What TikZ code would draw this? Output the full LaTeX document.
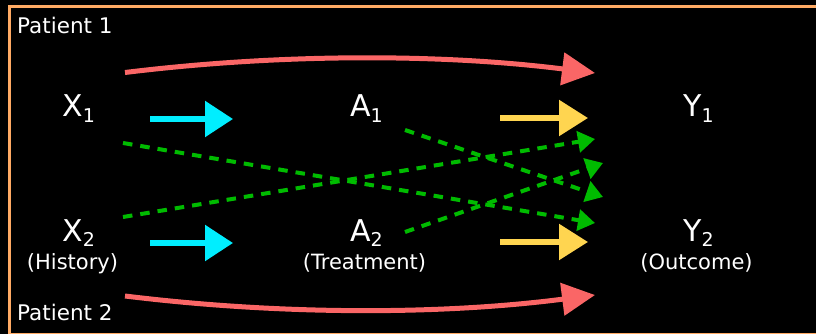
\documentclass[tikz,border=0pt]{standalone}
\usepackage{fontspec}
\setmainfont{DejaVu Sans}
\usetikzlibrary{arrows.meta}
\definecolor{frameor}{RGB}{255,170,100}
\definecolor{redarr}{RGB}{250,102,102}
\definecolor{cyanarr}{RGB}{0,238,255}
\definecolor{yelarr}{RGB}{255,213,80}
\definecolor{grnarr}{RGB}{0,187,0}
\newcommand\sbs[1]{\raisebox{-5.5pt}{\fontsize{19}{19}\selectfont #1}}
\begin{document}
\begin{tikzpicture}[x=1pt,y=-1pt,
  varlab/.style={text=white,font=\fontsize{30}{32}\selectfont,inner sep=0pt,anchor=base west},
  rolelab/.style={text=white,font=\fontsize{21}{23}\selectfont,inner sep=0pt,anchor=base},
  patlab/.style={text=white,font=\fontsize{21.5}{23}\selectfont,inner sep=0pt,anchor=base west},
  redar/.style={draw=redarr,line width=5pt,-{Triangle[length=33pt,width=32pt]}},
  cyanar/.style={draw=cyanarr,line width=5.5pt,-{Triangle[length=28pt,width=35pt]}},
  yelar/.style={draw=yelarr,line width=5.5pt,-{Triangle[length=29pt,width=35pt]}},
  grnar/.style={draw=grnarr,line width=4pt,dash pattern=on 9.5pt off 8pt,-{Triangle[length=17pt,width=21pt]}}
]
\fill[black] (0,0) rectangle (816,334);
\useasboundingbox (0,0) rectangle (816,334);
\clip (0,0) rectangle (816,334);
\draw[frameor,line width=3.5pt] (9.5,6.5) rectangle (830,334.5);

\node[patlab] (p1) at (17,34) {Patient 1};
\node[patlab] (p2) at (17,320) {Patient 2};

\node[varlab] (x1) at (62,117) {X\sbs{1}};
\node[varlab] (a1) at (350,117) {A\sbs{1}};
\node[varlab] (y1) at (683,117) {Y\sbs{1}};
\node[varlab] (x2) at (62,241) {X\sbs{2}};
\node[varlab] (a2) at (350,241) {A\sbs{2}};
\node[varlab] (y2) at (683,241) {Y\sbs{2}};

\node[rolelab] (hist) at (72.5,269) {(History)};
\node[rolelab] (treat) at (364.5,269) {(Treatment)};
\node[rolelab] (outc) at (696.5,269) {(Outcome)};

% red curved arrows X -> Y
\draw[redar] ([shift={(63,-44.5)}]x1.base west) .. controls +(155,-19) and +(-155,-19.5) .. ([shift={(-88,-44)}]y1.base west);
\draw[redar] ([shift={(63,55)}]x2.base west) .. controls +(155,19) and +(-155,20) .. ([shift={(-88,54)}]y2.base west);

% cyan X -> A
\draw[cyanar] ([shift={(88,2)}]x1.base west) -- ([shift={(-117,2)}]a1.base west);
\draw[cyanar] ([shift={(88,2)}]x2.base west) -- ([shift={(-117,2)}]a2.base west);

% yellow A -> Y
\draw[yelar] ([shift={(150,1)}]a1.base west) -- ([shift={(-95,1)}]y1.base west);
\draw[yelar] ([shift={(150,1)}]a2.base west) -- ([shift={(-95,1)}]y2.base west);

% green dashed cross arrows
\draw[grnar] ([shift={(61,-24)}]x2.base west) -- ([shift={(-88,22)}]y1.base west);
\draw[grnar] ([shift={(55,-9)}]a2.base west) -- ([shift={(-80,46)}]y1.base west);
\draw[grnar] ([shift={(55,13)}]a1.base west) -- ([shift={(-80,-44)}]y2.base west);
\draw[grnar] ([shift={(61,26)}]x1.base west) -- ([shift={(-88,-18)}]y2.base west);
\end{tikzpicture}
\end{document}
